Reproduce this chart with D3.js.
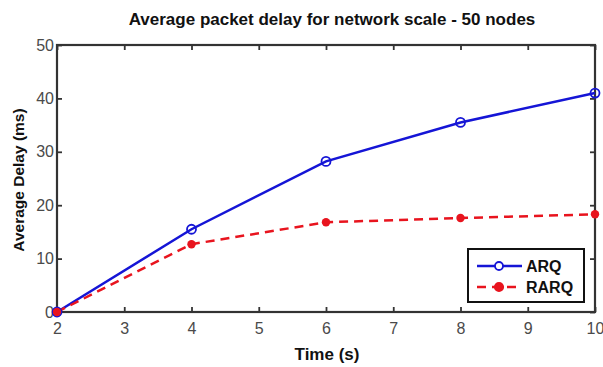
<!DOCTYPE html>
<html>
<head>
<meta charset="utf-8">
<script src="https://cdn.jsdelivr.net/npm/d3@7"></script>
<style>
  body { margin: 0; background: #fff; }
  svg { display: block; font-family: "Liberation Sans", Arial, sans-serif; }
</style>
</head>
<body>
<div id="chart"></div>
<script>
// data
const times = [2, 4, 6, 8, 10]
const arqDelay = [0, 15.5, 28.2, 35.5, 41.0]
const rarqDelay = [0, 12.7, 16.8, 17.6, 18.3]
const xTicks = [2, 3, 4, 5, 6, 7, 8, 9, 10]
const yTicks = [0, 10, 20, 30, 40, 50]

const W = 603, H = 367
const margin = { left: 57, right: 8, top: 45, bottom: 55 }
const AXIS = '#333'

const svg = d3.select('#chart').append('svg').attr('width', W).attr('height', H)

const x = d3.scaleLinear().domain([2, 10]).range([margin.left, W - margin.right])
const y = d3.scaleLinear().domain([0, 50]).range([H - margin.bottom, margin.top])

// axes with inward ticks
const tickLen = 5
const gx = svg.append('g').attr('transform', `translate(0,${y(0)})`)
  .call(d3.axisBottom(x).tickValues(xTicks).tickSize(-tickLen).tickPadding(11).tickFormat(d3.format('d')))
const gxTop = svg.append('g').attr('transform', `translate(0,${y(50)})`)
  .call(d3.axisTop(x).tickValues(xTicks).tickSize(-tickLen).tickFormat(''))
const gy = svg.append('g').attr('transform', `translate(${x(2)},0)`)
  .call(d3.axisLeft(y).tickValues(yTicks).tickSize(-tickLen).tickPadding(3))
const gyRight = svg.append('g').attr('transform', `translate(${x(10)},0)`)
  .call(d3.axisRight(y).tickValues(yTicks).tickSize(-tickLen).tickFormat(''))

;[gx, gxTop, gy, gyRight].forEach(g => {
  g.select('.domain').remove()
  g.selectAll('.tick line').attr('stroke', AXIS).attr('stroke-width', 1.8)
  g.selectAll('.tick text').attr('fill', '#4a4a4a').attr('font-size', 16)
})

// frame
svg.append('rect')
  .attr('x', x(2)).attr('y', y(50))
  .attr('width', x(10) - x(2)).attr('height', y(0) - y(50))
  .attr('fill', 'none').attr('stroke', AXIS).attr('stroke-width', 2.2)

// lines
const line = d3.line().x((d, i) => x(times[i])).y(d => y(d))

svg.append('path').datum(arqDelay)
  .attr('d', line).attr('fill', 'none')
  .attr('stroke', '#1515d6').attr('stroke-width', 2.5)

svg.append('path').datum(rarqDelay)
  .attr('d', line).attr('fill', 'none')
  .attr('stroke', '#e8141e').attr('stroke-width', 2.5).attr('stroke-dasharray', '9,6')

svg.append('g').selectAll('circle').data(arqDelay).join('circle')
  .attr('cx', (d, i) => x(times[i])).attr('cy', d => y(d)).attr('r', 4.5)
  .attr('fill', 'none').attr('stroke', '#1515d6').attr('stroke-width', 1.8)

svg.append('g').selectAll('circle').data(rarqDelay).join('circle')
  .attr('cx', (d, i) => x(times[i])).attr('cy', d => y(d)).attr('r', 4.2)
  .attr('fill', '#e8141e')

// title and labels
svg.append('text').attr('x', 332).attr('y', 25).attr('text-anchor', 'middle')
  .attr('font-size', 17).attr('font-weight', 'bold').attr('fill', '#111')
  .text('Average packet delay for network scale - 50 nodes')

svg.append('text').attr('x', 327).attr('y', 360).attr('text-anchor', 'middle')
  .attr('font-size', 17).attr('font-weight', 'bold').attr('fill', '#111')
  .text('Time (s)')

svg.append('text').attr('transform', `translate(24,180) rotate(-90)`)
  .attr('text-anchor', 'middle')
  .attr('font-size', 15.5).attr('font-weight', 'bold').attr('fill', '#111')
  .text('Average Delay (ms)')

// legend
const lg = svg.append('g').attr('transform', 'translate(468,249)')
lg.append('rect').attr('width', 116).attr('height', 53)
  .attr('fill', '#fff').attr('stroke', '#111').attr('stroke-width', 2)
const items = [
  { name: 'ARQ', color: '#1515d6', dash: null, filled: false },
  { name: 'RARQ', color: '#e8141e', dash: '9,6', filled: true }
]
items.forEach((it, i) => {
  const cy = 17 + i * 21
  lg.append('line').attr('x1', 9).attr('x2', 54).attr('y1', cy).attr('y2', cy)
    .attr('stroke', it.color).attr('stroke-width', 2.5)
    .attr('stroke-dasharray', it.dash)
  lg.append('circle').attr('cx', 31).attr('cy', cy).attr('r', it.filled ? 4.2 : 4)
    .attr('fill', it.filled ? it.color : '#fff').attr('stroke', it.color).attr('stroke-width', 1.8)
  lg.append('text').attr('x', 58).attr('y', cy + 6)
    .attr('font-size', 16).attr('font-weight', 'bold').attr('fill', '#111')
    .text(it.name)
})
</script>
</body>
</html>
